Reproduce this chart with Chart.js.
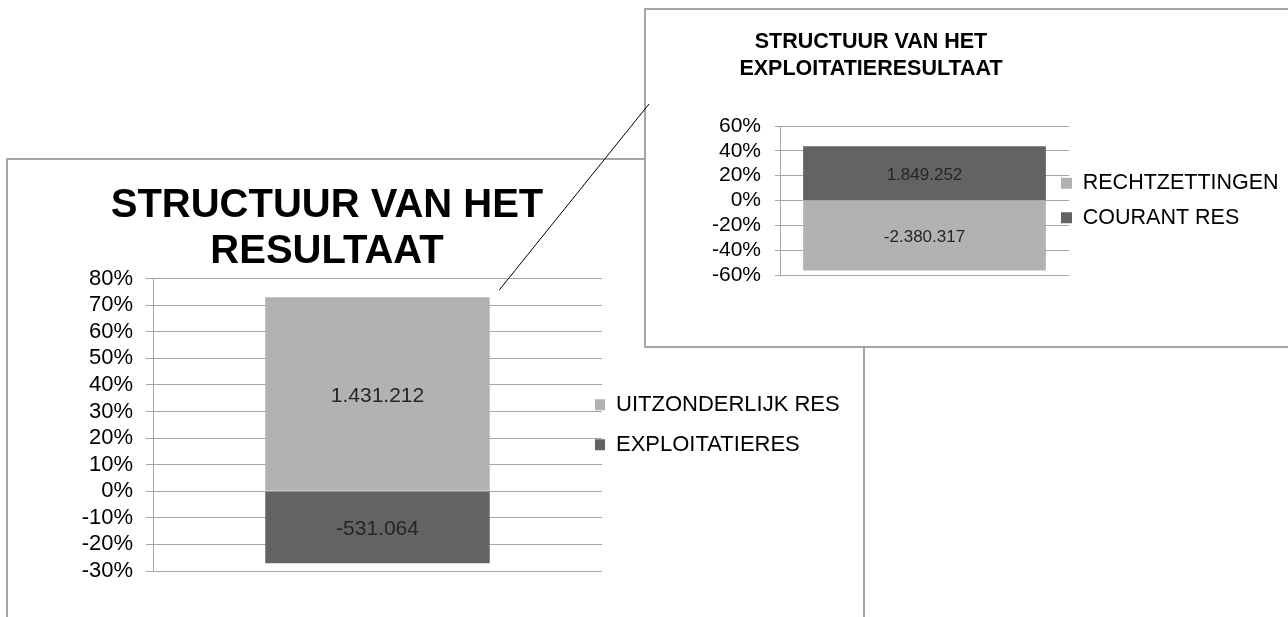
<!DOCTYPE html>
<html>
<head>
<meta charset="utf-8">
<title>Structuur van het resultaat</title>
<script src="https://cdn.jsdelivr.net/npm/chart.js@4.4.1/dist/chart.umd.min.js"></script>
<style>
  html, body { margin: 0; padding: 0; background: #fff; }
  body { width: 1288px; height: 617px; position: relative; overflow: hidden; }
  .frame { position: absolute; box-sizing: border-box; border: 2px solid #a6a6a6; background: #fff; }
  #bigFrame { left: 6px; top: 158px; width: 859px; height: 480px; z-index: 1; }
  #bigChart { position: absolute; left: 0; top: 150px; z-index: 2; }
  #smallFrame { left: 644px; top: 8px; width: 660px; height: 340px; z-index: 3; }
  #smallChart { position: absolute; left: 646px; top: 11px; z-index: 4; }
  #callout { position: absolute; left: 0; top: 0; z-index: 5; pointer-events: none; }
</style>
</head>
<body>
<div class="frame" id="bigFrame"></div>
<canvas id="bigChart" width="900" height="467"></canvas>
<div class="frame" id="smallFrame"></div>
<canvas id="smallChart" width="660" height="334"></canvas>
<svg id="callout" width="1288" height="617">
  <line x1="499.3" y1="290" x2="649" y2="104" stroke="#000" stroke-width="1"/>
</svg>

<script>
// --- data: main chart ---
const bigTitle = ['STRUCTUUR VAN HET', 'RESULTAAT'];
const bigCategories = [''];
const bigSeries = ['EXPLOITATIERES', 'UITZONDERLIJK RES'];
const bigAmounts = [-531064, 1431212];
const bigTickValues = [-30, -20, -10, 0, 10, 20, 30, 40, 50, 60, 70, 80];

// --- data: inset chart ---
const smallTitle = ['STRUCTUUR VAN HET', 'EXPLOITATIERESULTAAT'];
const smallCategories = [''];
const smallSeries = ['COURANT RES', 'RECHTZETTINGEN'];
const smallAmounts = [1849252, -2380317];
const smallTickValues = [-60, -40, -20, 0, 20, 40, 60];

const LIGHT = '#b2b2b2';
const DARK = '#636363';
const GRID = '#a6a6a6';
const FONT = '"Liberation Sans", Arial, sans-serif';

function formatAmount(n) {
    const s = String(Math.abs(n)).replace(/\B(?=(\d{3})+(?!\d))/g, '.');
    return (n < 0 ? '-' : '') + s;
}

// 100% stacked: each segment is its share of the total (absolute) amount
function shares(amounts) {
    const total = amounts.reduce((a, v) => a + Math.abs(v), 0);
    return amounts.map(v => v / total * 100);
}

// two-line title, drawn where the original places it
const boxTitle = {
    id: 'boxTitle',
    afterDraw(chart, args, opts) {
        const ctx = chart.ctx;
        ctx.save();
        ctx.font = opts.font;
        ctx.fillStyle = '#000';
        ctx.textAlign = 'center';
        ctx.textBaseline = 'alphabetic';
        opts.lines.forEach((line, i) => ctx.fillText(line, opts.x, opts.baselines[i]));
        ctx.restore();
    }
};

// amount printed in the middle of every segment
const valueLabels = {
    id: 'valueLabels',
    afterDatasetsDraw(chart, args, opts) {
        const ctx = chart.ctx;
        ctx.save();
        ctx.font = opts.font;
        ctx.fillStyle = '#262626';
        ctx.textAlign = 'center';
        ctx.textBaseline = 'middle';
        chart.data.datasets.forEach((ds, i) => {
            chart.getDatasetMeta(i).data.forEach((bar, j) => {
                ctx.fillText(formatAmount(ds.amounts[j]), bar.x, (bar.y + bar.base) / 2 + opts.dy);
            });
        });
        ctx.restore();
    }
};

// legend in the original sits a bit over the end of the gridlines
const legendNudge = {
    id: 'legendNudge',
    afterLayout(chart, args, opts) {
        if (chart.legend) {
            chart.legend.left += opts.dx;   // only move the left edge, keep room for the text
            chart.legend.width -= opts.dx;
        }
    }
};

function makeChart(canvasId, cfg) {
    const pct = shares(cfg.amounts);
    const datasets = cfg.series.map((name, i) => ({
        label: name,
        data: [pct[i]],
        amounts: [cfg.amounts[i]],
        backgroundColor: cfg.colors[i],
        borderWidth: 0,
        barPercentage: cfg.barPct,
        categoryPercentage: 1
    }));
    const ticks = cfg.tickValues;

    return new Chart(document.getElementById(canvasId), {
        type: 'bar',
        data: { labels: cfg.categories, datasets: datasets },
        options: {
            responsive: false,
            animation: false,
            devicePixelRatio: 1,
            events: [],
            layout: { padding: cfg.padding },
            scales: {
                x: { stacked: true, display: false },
                y: {
                    stacked: true,
                    min: ticks[0],
                    max: ticks[ticks.length - 1],
                    afterFit: (scale) => { scale.width = cfg.axisWidth; },
                    ticks: {
                        stepSize: ticks[1] - ticks[0],
                        autoSkip: false,
                        padding: cfg.tickPad,
                        color: '#000',
                        font: { family: FONT, size: cfg.tickSize },
                        callback: (v) => Math.round(v) + '%'
                    },
                    grid: { color: GRID, lineWidth: 1, tickLength: cfg.tickLen, drawTicks: true },
                    border: { display: true, color: GRID, width: 1 }
                }
            },
            plugins: {
                tooltip: { enabled: false },
                title: { display: false },
                legend: {
                    position: 'right',
                    fullSize: false,
                    reverse: true,
                    maxWidth: cfg.legendWidth,
                    labels: {
                        boxWidth: cfg.boxW,
                        boxHeight: cfg.boxH,
                        padding: cfg.legendPad,
                        color: '#000',
                        textAlign: 'left',
                        font: { family: FONT, size: cfg.legendSize }
                    }
                },
                boxTitle: { lines: cfg.title, font: cfg.titleFont, x: cfg.titleX, baselines: cfg.titleBaselines },
                valueLabels: { font: cfg.valueFont, dy: cfg.valueDy },
                legendNudge: { dx: cfg.legendDx }
            }
        },
        plugins: [boxTitle, valueLabels, legendNudge]
    });
}

makeChart('bigChart', {
    title: bigTitle,
    categories: bigCategories,
    series: bigSeries,
    amounts: bigAmounts,
    tickValues: bigTickValues,
    colors: [DARK, LIGHT],
    barPct: 0.5,
    padding: { left: 0, top: 128.5, right: 48, bottom: 46 },
    axisWidth: 153,
    tickPad: 13,
    tickLen: 7,
    tickSize: 22,
    legendWidth: 250,
    legendPad: 18,
    legendSize: 22,
    boxW: 10,
    boxH: 11,
    legendDx: -25,
    titleFont: 'bold 40px ' + FONT,
    titleX: 327,
    titleBaselines: [66.7, 113],
    valueFont: '21px ' + FONT,
    valueDy: 2
});

makeChart('smallChart', {
    title: smallTitle,
    categories: smallCategories,
    series: smallSeries,
    amounts: smallAmounts,
    tickValues: smallTickValues,
    colors: [DARK, LIGHT],
    barPct: 0.84,
    padding: { left: 0, top: 115, right: 17, bottom: 70 },
    axisWidth: 134,
    tickPad: 14,
    tickLen: 5,
    tickSize: 21,
    legendWidth: 220,
    legendPad: 13,
    legendSize: 21.5,
    boxW: 11,
    boxH: 11,
    legendDx: -21,
    titleFont: 'bold 21.5px ' + FONT,
    titleX: 225,
    titleBaselines: [37.3, 64],
    valueFont: '17px ' + FONT,
    valueDy: 2
});
</script>
</body>
</html>
